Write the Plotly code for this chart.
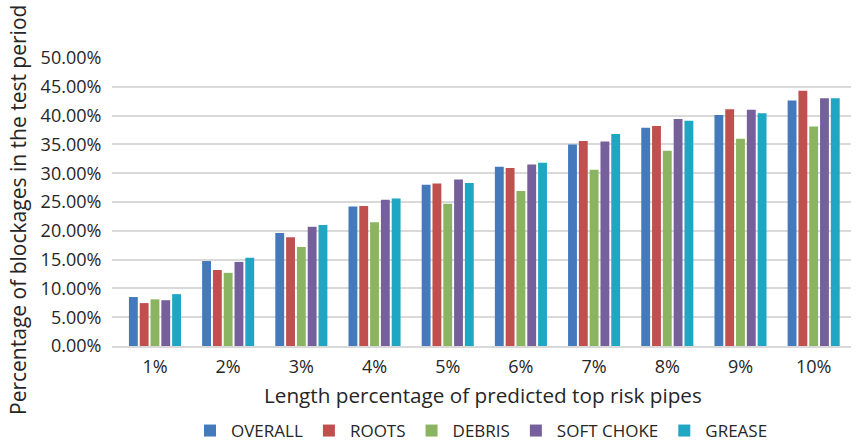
import plotly.graph_objects as go

categories = ["1%", "2%", "3%", "4%", "5%", "6%", "7%", "8%", "9%", "10%"]
overall = [8.5, 14.75, 19.6, 24.2, 28.0, 31.1, 35.0, 37.9, 40.1, 42.6]
roots = [7.45, 13.2, 18.9, 24.3, 28.2, 30.9, 35.6, 38.2, 41.1, 44.3]
debris = [8.1, 12.7, 17.2, 21.5, 24.7, 26.9, 30.6, 33.9, 36.0, 38.1]
soft_choke = [7.95, 14.6, 20.7, 25.4, 28.9, 31.5, 35.5, 39.4, 41.0, 43.0]
grease = [9.0, 15.3, 21.0, 25.6, 28.3, 31.8, 36.8, 39.1, 40.4, 43.0]

series = [
    ("OVERALL", overall, "#4479BC"),
    ("ROOTS", roots, "#C04F4E"),
    ("DEBRIS", debris, "#8AB460"),
    ("SOFT CHOKE", soft_choke, "#76609B"),
    ("GREASE", grease, "#1EA6C3"),
]

FONT = "Open Sans"
TXT = "#262626"
fig = go.Figure()
for name, vals, color in series:
    fig.add_trace(go.Bar(
        x=categories, y=[v / 100 for v in vals], name=name,
        marker=dict(color=color, line=dict(width=0)),
    ))

L, R, T, B = 112, 6, 58, 95
plot_h = 441 - T - B
plot_w = 857 - L - R

fig.update_layout(
    width=857, height=441,
    margin=dict(l=L, r=R, t=T, b=B, autoexpand=False),
    paper_bgcolor="white", plot_bgcolor="white",
    barmode="group", bargap=0.262, bargroupgap=0.18,
    font=dict(family=FONT, size=17, color=TXT),
    showlegend=True,
    legend=dict(orientation="h", x=(481 - L) / plot_w, xanchor="center",
                y=(346 - 431) / plot_h, yanchor="middle",
                font=dict(size=17, color=TXT), itemwidth=32,
                traceorder="normal"),
    annotations=[
        dict(text="Length percentage of predicted top risk pipes",
             xref="paper", yref="paper", x=(483 - L) / plot_w,
             y=(346 - 395) / plot_h, xanchor="center", yanchor="middle",
             showarrow=False, font=dict(size=20.7, color=TXT)),
        dict(text="Percentage of blockages in the test period",
             xref="paper", yref="paper", x=(18 - L) / plot_w,
             y=(346 - 210) / plot_h, xanchor="center", yanchor="middle",
             textangle=-90, showarrow=False, font=dict(size=21, color=TXT)),
    ],
)
fig.update_yaxes(
    range=[0, 0.5], dtick=0.05, tickformat=".2%", automargin=False,
    showgrid=True, gridcolor="#D9D9D9", gridwidth=1.5,
    zeroline=False, showline=False, ticks="outside", ticklen=6,
    tickcolor="rgba(0,0,0,0)", tickfont=dict(size=18),
)
fig.update_xaxes(
    range=[-0.587, 9.51],
    showline=True, linecolor="#D9D9D9", linewidth=1.5, automargin=False,
    ticks="outside", ticklen=4, tickcolor="rgba(0,0,0,0)",
    tickfont=dict(size=18),
)

fig.write_html("out.html", post_script="document.body.style.margin='0';",
               config={"displayModeBar": False})
